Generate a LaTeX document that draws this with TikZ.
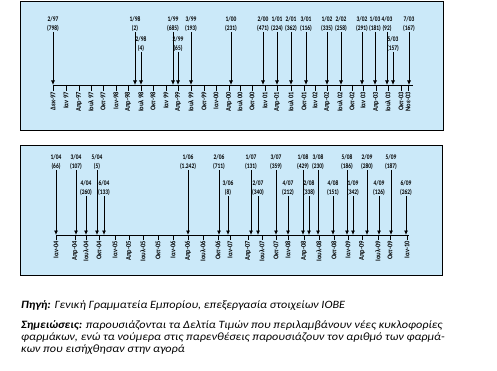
\documentclass[tikz,border=0pt]{standalone}
\usepackage{fontspec}
\setmainfont{Carlito}
\newfontfamily\labfont[FakeStretch=0.78]{Carlito}
\newfontfamily\monfont[FakeStretch=0.9]{Carlito}
\newfontfamily\captfont[FakeStretch=1.09]{Carlito}
\usetikzlibrary{arrows.meta}
\definecolor{boxblue}{RGB}{203,233,249}
\begin{document}
\begin{tikzpicture}[x=1pt,y=-1pt,
  panel/.style={draw=black,line width=1pt,fill=boxblue},
  evlabel/.style={font=\labfont\fontsize{7}{9}\selectfont\bfseries,align=center,inner sep=0.5pt,anchor=south},
  month/.style={font=\monfont\fontsize{7.2}{7}\selectfont\bfseries,rotate=90,anchor=east,inner sep=1pt},
  evline/.style={line width=0.8pt,-{Latex[length=4.5pt,width=4pt]}},
  axisline/.style={line width=0.8pt},
  tickline/.style={line width=0.6pt},
  capt/.style={anchor=base west,inner sep=0pt,font=\captfont\fontsize{11.2}{12}\selectfont\itshape}]
\useasboundingbox (0,0) rectangle (497,371);
% panels
\draw[panel] (20.5,1.5) rectangle (443,131);
\draw[panel] (20.5,146) rectangle (442,275);
% top axis
\coordinate (tS) at (53,85);
\coordinate (tE) at (413,85);
\draw[axisline] (tS) -- (tE);
\foreach \x/\t [count=\i] in {53/Δεκ-97, 66/Ιαν 97, 79/Απρ-97, 91/Ιουλ 97, 103/Οκτ-97, 116/Ιαν-98, 128/Απρ-98, 141/Ιουλ 98, 153/Οκτ-98, 166/Ιαν 99, 178/Απρ-99, 191/Ιουλ 99, 204/Οκτ-99, 216/Ιαν-00, 229/Απρ-00, 240/Ιουλ 00, 252/Οκτ-00, 265/Ιαν 01, 277/Απρ-01, 291/Ιουλ 01, 304/Οκτ-01, 315/Ιαν 02, 327/Απρ-02, 340/Ιουλ 02, 352/Οκτ-02, 363/Ιαν 03, 376/Απρ-03, 388/Ιουλ 03, 401/Οκτ-03, 408/Νοε-03}{
  \coordinate (tm\i) at (\x,85);
  \node[month] (tml\i) at (\x,91) {\t};
  \draw[tickline] (tm\i) -- (tml\i.east);
}
\foreach \x/\r/\m/\y/\c [count=\i] in {53/32/2/97/798, 135/32/1/98/2, 141/52/2/98/4, 173/32/1/99/685, 178/52/2/99/65, 191/32/3/99/193, 231/32/1/00/231, 263/32/2/00/471, 277/32/1/01/224, 291/32/2/01/362, 306/32/3/01/116, 327/32/1/02/335, 341/32/2/02/258, 362/32/3/02/291, 375/32/1/03/181, 387/32/4/03/92, 393/52/5/03/157, 409/32/7/03/167}{
  \coordinate (ta\i) at (\x,85);
  \node[evlabel] (te\i) at (\x,\r) {\m/\y\\(\c)};
  \draw[evline] (te\i.south) -- (ta\i);
}
% bottom axis
\coordinate (bS) at (56,235);
\coordinate (bE) at (409,235);
\draw[axisline] (bS) -- (bE);
\foreach \x/\t [count=\i] in {56/Ιαν-04, 75/Απρ-04, 86/Ιουλ-04, 99/Οκτ-04, 115/Ιαν-05, 129/Απρ-05, 143/Ιουλ-05, 158/Οκτ-05, 173/Ιαν-06, 188/Απρ-06, 203/Ιουλ-06, 218/Οκτ-06, 230/Ιαν-07, 248/Απρ-07, 262/Ιουλ-07, 276/Οκτ-07, 288/Ιαν-08, 304/Απρ-08, 319/Ιουλ-08, 334/Οκτ-08, 348/Ιαν-09, 362/Απρ-09, 378/Ιουλ-09, 390/Οκτ-09, 407/Ιαν-10}{
  \coordinate (bm\i) at (\x,235);
  \node[month] (bml\i) at (\x,240) {\t};
  \draw[tickline] (bm\i) -- (bml\i.east);
}
\foreach \x/\r/\m/\y/\c [count=\i] in {56/170/1/04/66, 76/170/3/04/107, 86/196/4/04/260, 97/170/5/04/5, 104/196/6/04/133, 188/170/1/06/1.242, 219/170/2/06/711, 228/196/3/06/8, 251/170/1/07/131, 258/196/2/07/340, 276/170/3/07/359, 288/196/4/07/212, 303/170/1/08/429, 309/196/2/08/338, 318/170/3/08/230, 333/196/4/08/151, 347/170/5/08/186, 353/196/1/09/342, 367/170/2/09/280, 379/196/4/09/126, 391/170/5/09/187, 406/196/6/09/262}{
  \coordinate (ba\i) at (\x,235);
  \node[evlabel] (be\i) at (\x,\r) {\m/\y\\(\c)};
  \draw[evline] (be\i.south) -- (ba\i);
}
% caption
\node[capt] (src) at (21,308) {\textbf{Πηγή:} Γενική Γραμματεία Εμπορίου, επεξεργασία στοιχείων ΙΟΒΕ};
\node[capt] (nt1) at (21,328.5) {\textbf{Σημειώσεις:} παρουσιάζονται τα Δελτία Τιμών που περιλαμβάνουν νέες κυκλοφορίες};
\node[capt] (nt2) at (21,340.5) {φαρμάκων, ενώ τα νούμερα στις παρενθέσεις παρουσιάζουν τον αριθμό των φαρμά-};
\node[capt] (nt3) at (21,352.5) {κων που εισήχθησαν στην αγορά};
\end{tikzpicture}
\end{document}
